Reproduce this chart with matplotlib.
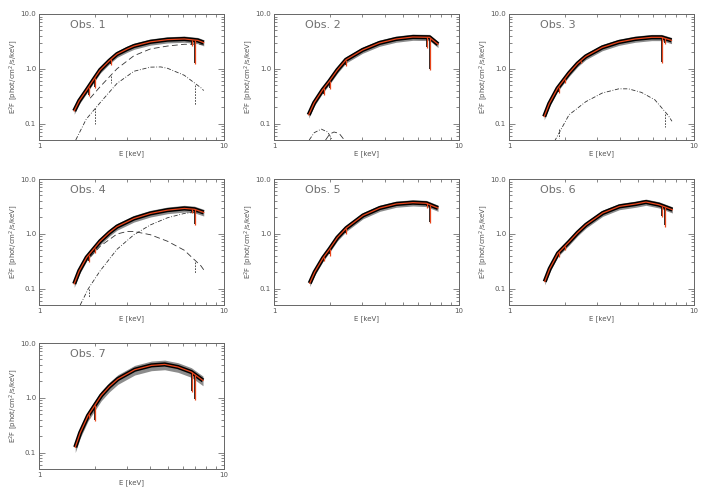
import matplotlib
matplotlib.use("Agg")
import matplotlib.pyplot as plt
import numpy as np
from matplotlib.ticker import FixedLocator, FormatStrFormatter, NullFormatter

obs_labels = ["Obs. 1", "Obs. 2", "Obs. 3", "Obs. 4", "Obs. 5", "Obs. 6", "Obs. 7"]

# best-fit model nodes, E [keV] and E^2F
obs1_e = [1.55, 1.65, 1.81, 2.0, 2.14, 2.4, 2.64, 3.0, 3.26, 4.0, 4.95, 6.1, 7.2, 7.77]
obs1_f = [0.17, 0.26, 0.41, 0.68, 0.95, 1.4, 1.85, 2.3, 2.6, 3.1, 3.4, 3.5, 3.3, 3.0]
obs2_e = [1.54, 1.65, 1.83, 1.99, 2.2, 2.45, 3.01, 3.71, 4.57, 5.63, 6.93, 7.7]
obs2_f = [0.144, 0.24, 0.41, 0.59, 0.95, 1.46, 2.2, 2.95, 3.5, 3.8, 3.75, 2.8]
obs3_e = [1.55, 1.65, 1.83, 2.11, 2.35, 2.6, 3.19, 3.92, 4.81, 5.9, 6.68, 7.56]
obs3_f = [0.134, 0.23, 0.44, 0.83, 1.25, 1.68, 2.45, 3.07, 3.5, 3.75, 3.75, 3.3]
obs4_e = [1.55, 1.65, 1.81, 2.14, 2.4, 2.64, 3.26, 4.0, 4.95, 6.1, 6.92, 7.77]
obs4_f = [0.122, 0.21, 0.37, 0.73, 1.05, 1.35, 1.9, 2.35, 2.7, 2.9, 2.8, 2.45]
obs5_e = [1.56, 1.66, 1.84, 2.0, 2.2, 2.46, 3.03, 3.73, 4.58, 5.64, 6.66, 7.7]
obs5_f = [0.125, 0.2, 0.36, 0.53, 0.85, 1.27, 2.16, 2.95, 3.5, 3.7, 3.6, 2.95]
obs6_e = [1.56, 1.66, 1.84, 2.12, 2.35, 2.61, 3.21, 3.95, 4.85, 5.5, 6.46, 7.64]
obs6_f = [0.134, 0.23, 0.44, 0.72, 1.05, 1.46, 2.39, 3.16, 3.5, 3.8, 3.4, 2.75]
obs7_e = [1.57, 1.67, 1.84, 2.17, 2.4, 2.67, 3.29, 4.05, 4.78, 5.64, 6.66, 7.7]
obs7_f = [0.125, 0.23, 0.47, 1.1, 1.6, 2.2, 3.25, 3.9, 4.06, 3.64, 2.95, 2.07]

# absorption-line energies and depth of the model at each line
dip_e = [1.86, 2.0, 2.45, 6.7, 6.97]
obs1_dip = [0.32, 0.45, 1.15, 2.6, 1.2]
obs2_dip = [0.33, 0.42, 1.1, 2.4, 0.95]
obs3_dip = [0.36, 0.55, 1.3, 1.27, 2.8]
obs4_dip = [0.3, 0.45, 1.1, 2.4, 1.45]
obs5_dip = [0.32, 0.4, 1.0, 3.0, 1.55]
obs6_dip = [0.38, 0.5, 1.2, 2.05, 1.35]
obs7_dip = [0.42, 0.38, 1.7, 1.27, 0.9]

# additive model components
obs1_dash_e = [1.89, 2.14, 2.64, 3.26, 4.0, 4.95, 6.1, 7.5, 7.77]
obs1_dash_f = [0.29, 0.47, 1.0, 1.73, 2.3, 2.6, 2.8, 2.8, 2.75]
obs1_dd_e = [1.58, 1.8, 2.14, 2.64, 3.26, 4.0, 4.55, 4.95, 6.1, 7.5, 7.77]
obs1_dd_f = [0.05, 0.12, 0.24, 0.54, 0.9, 1.07, 1.08, 1.02, 0.76, 0.45, 0.4]
obs2_dd_e = [1.55, 1.65, 1.8, 1.95, 2.07]
obs2_dd_f = [0.05, 0.068, 0.079, 0.07, 0.05]
obs2_dash_e = [1.9, 2.0, 2.11, 2.25, 2.4]
obs2_dash_f = [0.05, 0.064, 0.07, 0.066, 0.05]
obs3_dd_e = [1.76, 2.11, 2.6, 3.19, 3.92, 4.42, 5.2, 6.15, 7.26, 7.6]
obs3_dd_f = [0.047, 0.144, 0.25, 0.36, 0.43, 0.43, 0.37, 0.27, 0.14, 0.11]
obs4_dash_e = [1.9, 2.14, 2.64, 2.99, 3.26, 4.0, 4.95, 6.1, 7.5, 7.77]
obs4_dash_f = [0.38, 0.59, 0.99, 1.1, 1.1, 0.96, 0.73, 0.5, 0.26, 0.22]
obs4_dd_e = [1.67, 1.85, 2.14, 2.64, 3.26, 4.0, 4.95, 6.1, 7.2, 7.77]
obs4_dd_f = [0.05, 0.1, 0.21, 0.52, 0.96, 1.45, 1.96, 2.35, 2.5, 2.45]

# line dips seen in the components: (energy, top, bottom)
obs1_dash_dips = [(2.45, 0.75, 0.55), (6.97, 2.8, 1.6)]
obs1_dd_dips = [(2.0, 0.19, 0.1), (6.97, 0.5, 0.22)]
obs3_dd_dips = [(1.86, 0.08, 0.055), (6.97, 0.15, 0.085)]
obs4_dash_dips = [(6.97, 0.3, 0.19)]
obs4_dd_dips = [(1.86, 0.1, 0.07)]

LONG_DASH = (0, (7, 4))
DASH_DOT = (0, (5, 2, 1, 2))

models = [(obs1_e, obs1_f, obs1_dip), (obs2_e, obs2_f, obs2_dip), (obs3_e, obs3_f, obs3_dip),
          (obs4_e, obs4_f, obs4_dip), (obs5_e, obs5_f, obs5_dip), (obs6_e, obs6_f, obs6_dip),
          (obs7_e, obs7_f, obs7_dip)]
components = {
    0: [(obs1_dash_e, obs1_dash_f, LONG_DASH, obs1_dash_dips),
        (obs1_dd_e, obs1_dd_f, DASH_DOT, obs1_dd_dips)],
    1: [(obs2_dd_e, obs2_dd_f, DASH_DOT, []), (obs2_dash_e, obs2_dash_f, LONG_DASH, [])],
    2: [(obs3_dd_e, obs3_dd_f, DASH_DOT, obs3_dd_dips)],
    3: [(obs4_dash_e, obs4_dash_f, LONG_DASH, obs4_dash_dips),
        (obs4_dd_e, obs4_dd_f, DASH_DOT, obs4_dd_dips)],
}
# spread of the data around the model (relative)
data_spread = [0.13, 0.13, 0.13, 0.14, 0.13, 0.13, 0.2]

W, H = 706, 494
col_left = [39, 274, 509]
row_bottom = [140, 305, 469]
ax_w, ax_h = 185, 126

grey = "#555555"
red = "#e8461c"
plt.rcParams["font.family"] = "DejaVu Sans"

fig = plt.figure(figsize=(W / 100, H / 100), dpi=100)

for i, (e, f, dips) in enumerate(models):
    r, c = divmod(i, 3)
    ax = fig.add_axes([col_left[c] / W, 1 - row_bottom[r] / H, ax_w / W, ax_h / H])
    ax.set_xscale("log")
    ax.set_yscale("log")

    e = np.asarray(e)
    f = np.asarray(f)
    s = data_spread[i]
    ax.fill_between(e, f * (1 - s), f * (1 + s), color="#8c8c8c", lw=0, zorder=1)
    ax.plot(e, f, color="black", lw=3.0, zorder=2, solid_capstyle="butt")
    top = np.exp(np.interp(np.log(dip_e), np.log(e), np.log(f)))
    ax.vlines(dip_e, np.asarray(dips) * 1.05, top, color="black", lw=1.2, zorder=2)
    ax.vlines(dip_e, dips, top, color=red, lw=0.9, zorder=3)
    ax.plot(e, f, color=red, lw=0.9, zorder=3)

    for ce, cf, ls, cdips in components.get(i, []):
        ax.plot(ce, cf, color="#333333", lw=0.6, linestyle=ls, zorder=2)
        for de, dtop, dbot in cdips:
            ax.plot([de, de], [dtop, dbot], color="#333333", lw=0.6,
                    linestyle=(0, (2, 1.5)), zorder=2)

    ax.set_xlim(1, 10)
    ax.set_ylim(0.05, 10)
    ax.xaxis.set_major_locator(FixedLocator([1, 10]))
    ax.xaxis.set_minor_locator(FixedLocator(range(2, 10)))
    ax.xaxis.set_major_formatter(FormatStrFormatter("%d"))
    ax.xaxis.set_minor_formatter(NullFormatter())
    ax.yaxis.set_major_locator(FixedLocator([0.1, 1, 10]))
    ax.yaxis.set_minor_locator(FixedLocator([0.05, 0.06, 0.07, 0.08, 0.09, 0.2, 0.3, 0.4, 0.5,
                                             0.6, 0.7, 0.8, 0.9, 2, 3, 4, 5, 6, 7, 8, 9]))
    ax.yaxis.set_major_formatter(FormatStrFormatter("%.1f"))
    ax.yaxis.set_minor_formatter(NullFormatter())
    ax.tick_params(which="both", direction="in", top=True, right=True, colors=grey,
                   labelsize=5, width=0.5)
    ax.tick_params(which="major", length=4, pad=2)
    ax.tick_params(which="minor", length=2)
    for sp in ax.spines.values():
        sp.set_color("#666666")
        sp.set_linewidth(0.7)

    ax.set_xlabel("E [keV]", fontsize=5, color=grey, labelpad=1)
    ax.set_ylabel("E$^2$F [phot/cm$^2$/s/keV]", fontsize=5, color=grey, labelpad=0.5)
    ax.text(0.17, 0.91, obs_labels[i], transform=ax.transAxes, fontsize=8,
            color="#707070", va="center", ha="left")

fig.savefig("out.png", dpi=100)
